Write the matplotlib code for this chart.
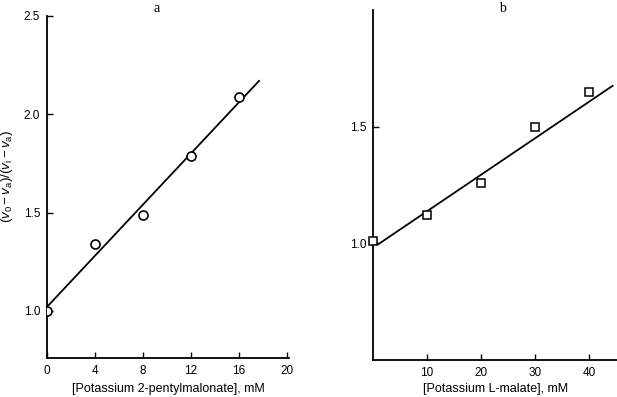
import numpy as np
import matplotlib
matplotlib.use("Agg")
import matplotlib.pyplot as plt

plt.rcParams['font.family'] = ['Liberation Sans', 'DejaVu Sans']
plt.rcParams['mathtext.fontset'] = 'custom'
plt.rcParams['mathtext.rm'] = 'Liberation Sans'
plt.rcParams['mathtext.it'] = 'Liberation Sans:italic'

# panel a: 2-pentylmalonate
conc_a = [0, 4, 8, 12, 16]
ratio_a = [1.00, 1.34, 1.49, 1.79, 2.09]
fit_a_x = [0, 17.7]
fit_a_y = [1.02, 2.17]

# panel b: L-malate
conc_b = [0, 10, 20, 30, 40]
ratio_b = [1.01, 1.12, 1.26, 1.50, 1.65]
fit_b_x = [0.9, 44.3]
fit_b_y = [0.995, 1.675]

fs = 8.5
W, H = 617, 397
fig = plt.figure(figsize=(6.17, 3.97), dpi=100)

ax1 = fig.add_axes([47/W, 39/H, 242/W, 342/H])
ax1.plot(fit_a_x, fit_a_y, color='black', lw=1.3, clip_on=False)
ax1.plot(conc_a, ratio_a, 'o', ms=6.5, mfc='white', mec='black', mew=1.2, clip_on=True, zorder=3)
ax1.set_xlim(0, 20.2)
ax1.set_ylim(0.76, 2.5)
ax1.set_xticks([0, 4, 8, 12, 16, 20])
ax1.set_yticks([1.0, 1.5, 2.0, 2.5])

ax2 = fig.add_axes([373/W, 37/H, 245/W, 350/H])
ax2.plot(fit_b_x, fit_b_y, color='black', lw=1.3, clip_on=False)
ax2.plot(conc_b, ratio_b, 's', ms=5.5, mfc='white', mec='black', mew=1.1, clip_on=False, zorder=3)
ax2.set_xlim(0, 45.3)
ax2.set_ylim(0.5, 2.0)
ax2.set_xticks([10, 20, 30, 40])
ax2.set_yticks([1.0, 1.5])

for ax in (ax1, ax2):
    ax.spines['top'].set_visible(False)
    ax.spines['right'].set_visible(False)
    ax.spines['left'].set_linewidth(1.3)
    ax.spines['bottom'].set_linewidth(1.3)
    ax.tick_params(direction='in', length=4, width=1, labelsize=fs, pad=5)

# axis labels
fig.text(168/W, 1 - 389/H, '[Potassium 2-pentylmalonate], mM', fontsize=9, ha='center', va='center')
fig.text(496/W, 1 - 389/H, '[Potassium L-malate], mM', fontsize=9, ha='center', va='center')
fig.text(7/W, 1 - 176/H, r'$(v_0 - v_\mathrm{a})/(v_\mathrm{i} - v_\mathrm{a})$', fontsize=9.6,
         rotation=90, ha='center', va='center')

fig.text(157/W, 1 - 9/H, 'a', family='Liberation Serif', fontsize=10, ha='center', va='center')
fig.text(502/W, 1 - 9/H, 'b', family='Liberation Serif', fontsize=10, ha='center', va='center')

fig.savefig('out.png', dpi=100)
